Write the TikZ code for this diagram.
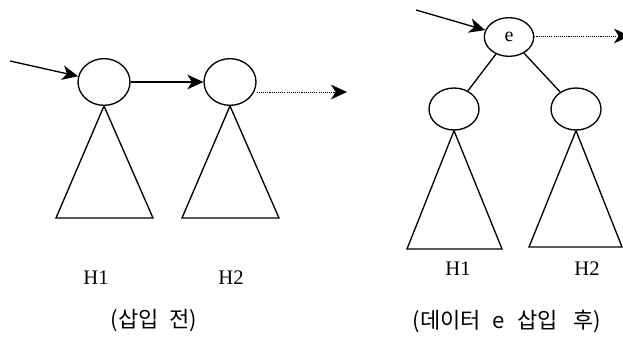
\documentclass[tikz,border=0pt]{standalone}
\usepackage{fontspec}
\setmainfont{Liberation Serif}
\newfontfamily\kr{Noto Sans CJK KR}
\usetikzlibrary{arrows.meta,shapes.geometric}

\tikzset{
  heapnode/.style={draw, ellipse, line width=1pt, inner sep=0pt,
                   font=\fontsize{15pt}{15pt}\selectfont},
  leftnode/.style={heapnode, minimum width=39pt, minimum height=35pt},
  rootnode/.style={heapnode, minimum width=37pt, minimum height=29pt},
  childnode/.style={heapnode, minimum width=37.5pt, minimum height=31.5pt},
  subtree/.style={draw, line width=1pt, line join=miter},
  link/.style={draw, line width=1pt,
               -{Stealth[length=12pt, width=11pt, inset=3.5pt]}},
  nextlink/.style={draw, line width=0.75pt, dash pattern=on 0.8pt off 0.8pt,
                   -{Stealth[length=12pt, width=11pt, inset=3.5pt]}},
  edge/.style={draw, line width=1pt},
  heaplabel/.style={font=\fontsize{15.5pt}{15.5pt}\selectfont, inner sep=0pt},
  caption/.style={font=\kr\fontsize{16.5pt}{17pt}\selectfont, inner sep=0pt}
}

\begin{document}
\begin{tikzpicture}[x=0.75pt, y=-0.75pt]
  \useasboundingbox (0,0) rectangle (623,336);

  % ---- before insertion: two heaps H1, H2 in a root list ----
  \node[leftnode] (c1) at (104,82) {};
  \node[leftnode] (c2) at (230,82) {};
  \coordinate (in1) at (10,61);
  \coordinate (out1) at (347,92);

  \path[subtree] (c1.south) -- (56,218) -- (153,218) -- cycle;
  \path[subtree] (c2.south) -- (182,218) -- (279,218) -- cycle;

  \path[link] (in1) -- (c1);
  \path[link] (c1) -- (c2);
  \path[nextlink] (c2.east |- out1) -- (out1);

  \node[heaplabel] (h1a) at (96,278) {H1};
  \node[heaplabel] (h2a) at (231,278) {H2};
  \node[caption] (capA) at (154,321) {(삽입\hspace{8pt}전)};

  % ---- after inserting e: e becomes the root over H1 and H2 ----
  \node[rootnode] (root) at (509,37) {e};
  \node[childnode] (lc) at (454,109) {};
  \node[childnode] (rc) at (576,109) {};
  \coordinate (in2) at (416,10);
  \coordinate (out2) at (630,36);

  \path[edge] (root) -- (lc);
  \path[edge] (root) -- (rc);
  \path[subtree] (lc.south) -- (407,249) -- (502,249) -- cycle;
  \path[subtree] (rc.south) -- (529,247) -- (622,247) -- cycle;

  \path[link] (in2) -- (root);
  \path[nextlink] (root.east |- out2) -- (out2);

  \node[heaplabel] (h1b) at (458,269) {H1};
  \node[heaplabel] (h2b) at (587,269) {H2};
  \node[caption] (capB) at (507,321)
    {(데이터\hspace{9pt}e\hspace{9pt}삽입\hspace{12pt}후)};
\end{tikzpicture}
\end{document}
